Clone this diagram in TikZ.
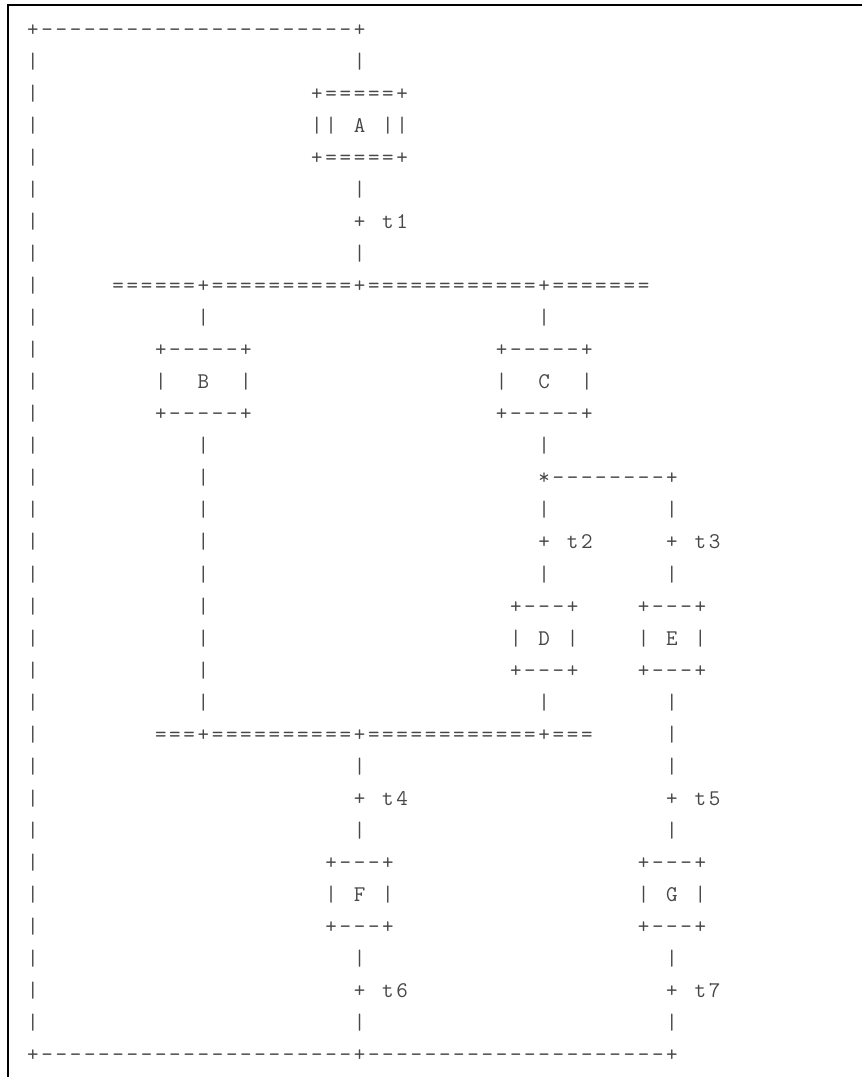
\documentclass[tikz,border=0pt]{standalone}
\usepackage{fontspec}
\tikzset{
  ch/.style={font=\ttfamily\addfontfeature{FakeStretch=1.3}\fontsize{16.8pt}{18pt}\selectfont, text=black!72, inner sep=0pt, outer sep=0pt, anchor=base},
  frame/.style={line width=1.7pt, black}
}
\ExplSyntaxOn
\int_new:N \l_art_col_int
\tl_new:N \l_art_x_tl
\tl_new:N \l_art_y_tl
\tl_new:N \l_art_name_tl
\NewDocumentCommand\artrow{mmm}{
  \int_set:Nn \l_art_col_int {#1}
  \str_map_inline:nn {#3}
   {
     \str_if_eq:nnF {##1} {~}
      {
        \tl_set:Nx \l_art_x_tl {\fp_eval:n {33.0 + 14.2 * \l_art_col_int}}
        \tl_set:Nx \l_art_y_tl {\fp_eval:n {36.5 + 32.03 * (#2)}}
        \tl_set:Nx \l_art_name_tl {c-\int_eval:n{#2}-\int_use:N \l_art_col_int}
        \node[ch]~(\l_art_name_tl)~at~(\l_art_x_tl,\l_art_y_tl)~{##1};
      }
     \int_incr:N \l_art_col_int
   }
}
\ExplSyntaxOff
\begin{document}
\begin{tikzpicture}[x=0.75pt,y=-0.75pt]
\useasboundingbox (0,0) rectangle (862,1077);
\coordinate (fb) at (8,1077);
\coordinate (fc) at (8,5);
\coordinate (fr) at (862,5);
\draw[frame] (fb) -- (fc) -- (fr);
% left rail
\artrow{0}{0}{+----------------------+}
\foreach \r in {1,...,31} {\artrow{0}{\r}{|}}
% A
\artrow{23}{1}{|}
\artrow{20}{2}{+=====+}
\artrow{20}{3}{||}\artrow{23}{3}{A}\artrow{25}{3}{||}
\artrow{20}{4}{+=====+}
\artrow{23}{5}{|}
\artrow{23}{6}{+}\artrow{25}{6}{t1}
\artrow{23}{7}{|}
\artrow{6}{8}{======+==========+============+=======}
% B, C
\artrow{12}{9}{|}\artrow{36}{9}{|}
\artrow{9}{10}{+-----+}\artrow{33}{10}{+-----+}
\artrow{9}{11}{|}\artrow{12}{11}{B}\artrow{15}{11}{|}
\artrow{33}{11}{|}\artrow{36}{11}{C}\artrow{39}{11}{|}
\artrow{9}{12}{+-----+}\artrow{33}{12}{+-----+}
\artrow{12}{13}{|}\artrow{36}{13}{|}
\foreach \r in {14,...,21} {\artrow{12}{\r}{|}}
\artrow{36}{14}{*--------+}
\artrow{36}{15}{|}\artrow{45}{15}{|}
\artrow{36}{16}{+}\artrow{38}{16}{t2}\artrow{45}{16}{+}\artrow{47}{16}{t3}
\artrow{36}{17}{|}\artrow{45}{17}{|}
% D, E
\artrow{34}{18}{+---+}\artrow{43}{18}{+---+}
\artrow{34}{19}{|}\artrow{36}{19}{D}\artrow{38}{19}{|}
\artrow{43}{19}{|}\artrow{45}{19}{E}\artrow{47}{19}{|}
\artrow{34}{20}{+---+}\artrow{43}{20}{+---+}
\artrow{36}{21}{|}\artrow{45}{21}{|}
\artrow{9}{22}{===+==========+============+===}\artrow{45}{22}{|}
\artrow{23}{23}{|}\artrow{45}{23}{|}
\artrow{23}{24}{+}\artrow{25}{24}{t4}\artrow{45}{24}{+}\artrow{47}{24}{t5}
\artrow{23}{25}{|}\artrow{45}{25}{|}
% F, G
\artrow{21}{26}{+---+}\artrow{43}{26}{+---+}
\artrow{21}{27}{|}\artrow{23}{27}{F}\artrow{25}{27}{|}
\artrow{43}{27}{|}\artrow{45}{27}{G}\artrow{47}{27}{|}
\artrow{21}{28}{+---+}\artrow{43}{28}{+---+}
\artrow{23}{29}{|}\artrow{45}{29}{|}
\artrow{23}{30}{+}\artrow{25}{30}{t6}\artrow{45}{30}{+}\artrow{47}{30}{t7}
\artrow{23}{31}{|}\artrow{45}{31}{|}
\artrow{0}{32}{+----------------------+---------------------+}
\end{tikzpicture}
\end{document}
